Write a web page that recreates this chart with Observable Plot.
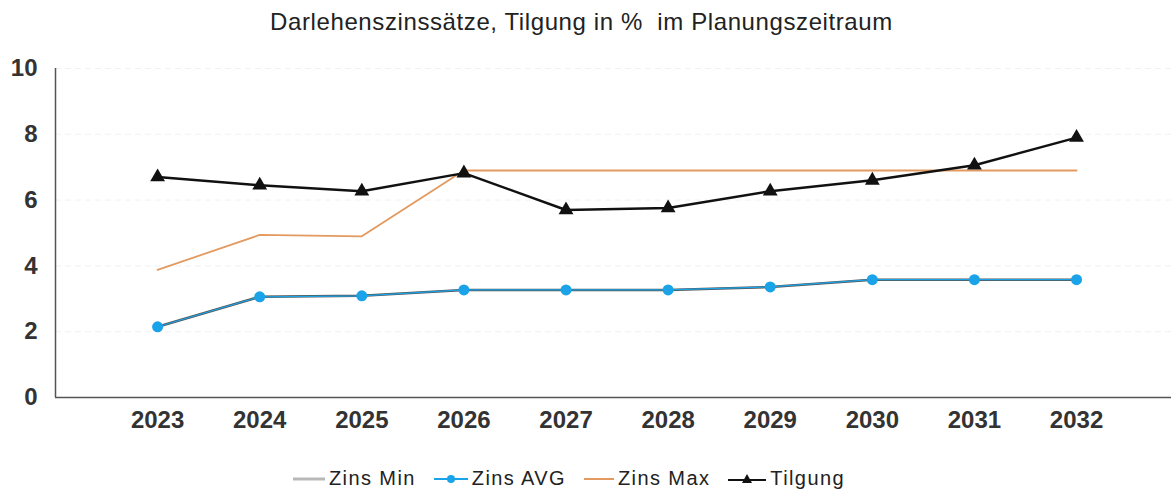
<!DOCTYPE html>
<html>
<head>
<meta charset="utf-8">
<script src="https://cdn.jsdelivr.net/npm/d3@7"></script>
<script src="https://cdn.jsdelivr.net/npm/@observablehq/plot@0.6"></script>
<style>
  body { margin: 0; background: #fff; font-family: "Liberation Sans", Arial, sans-serif; }
  #title { height: 45px; line-height: 44px; text-align: center; font-size: 24px; color: #222; letter-spacing: 0.6px; padding-right: 8px; }
  #legend { display: flex; justify-content: flex-start; font-size: 20px; letter-spacing: 1.4px; color: #222; margin-top: 22px; padding-left: 293px; }
  #legend span.item { display: inline-flex; align-items: center; gap: 4px; margin-right: 18px; }
  svg { display: block; }
</style>
</head>
<body>
<div id="title">Darlehenszinssätze, Tilgung in %&nbsp; im Planungszeitraum</div>
<div id="chart"></div>
<div id="legend"></div>
<script>
const years = [2023, 2024, 2025, 2026, 2027, 2028, 2029, 2030, 2031, 2032];
const zinsMin = [2.15, 3.06, 3.09, 3.27, 3.27, 3.27, 3.36, 3.58, 3.58, 3.58];
const zinsAvg = [2.15, 3.06, 3.09, 3.27, 3.27, 3.27, 3.36, 3.58, 3.58, 3.58];
const zinsMax = [3.88, 4.94, 4.9, 6.9, 6.9, 6.9, 6.9, 6.9, 6.9, 6.9];
const tilgung = [6.7, 6.45, 6.27, 6.82, 5.7, 5.76, 6.27, 6.6, 7.06, 7.9];
const yTicks = [0, 2, 4, 6, 8, 10];

const seriesNames = ["Zins Min", "Zins AVG", "Zins Max", "Tilgung"];
const seriesColors = ["#b8b8b8", "#1aa3e8", "#e39a60", "#111111"];

const rows = (vals, name) => years.map((y, i) => ({year: y, value: vals[i], series: name}));
const dMin = rows(zinsMin, "Zins Min");
const dAvg = rows(zinsAvg, "Zins AVG");
const dMax = rows(zinsMax, "Zins Max");
const dTil = rows(tilgung, "Tilgung");

const chart = Plot.plot({
  width: 1171,
  height: 400,
  marginTop: 23,
  marginBottom: 48,
  marginLeft: 55,
  marginRight: 0,
  style: {fontFamily: "Liberation Sans, Arial, sans-serif", fontSize: "24px", color: "#222", background: "#fff"},
  x: {domain: [2022, 2032.93], label: null},
  y: {domain: [0, 10], label: null},
  marks: [
    Plot.gridY(yTicks.slice(1), {stroke: "#e4e4e4", strokeOpacity: 0.5, strokeDasharray: "6,4"}),
    Plot.ruleY([0], {stroke: "#555", strokeWidth: 1.5}),
    Plot.ruleX([2022], {y1: 0, y2: 10, stroke: "#555", strokeWidth: 1.5}),
    Plot.axisX({ticks: years, tickFormat: d => String(d), tickSize: 0, tickPadding: 13, fontWeight: "bold", fill: "#333", label: null}),
    Plot.axisY({ticks: yTicks, tickSize: 0, tickPadding: 18, fontWeight: "bold", fill: "#333", label: null}),
    Plot.line(dMax, {x: "year", y: "value", stroke: seriesColors[2], strokeWidth: 1.8}),
    Plot.line(dMin, {x: "year", y: "value", stroke: "#555", strokeWidth: 2.5}),
    Plot.line(dAvg, {x: "year", y: "value", stroke: seriesColors[1], strokeWidth: 1.2}),
    Plot.dot(dAvg, {x: "year", y: "value", fill: seriesColors[1], r: 5.5}),
    Plot.line(dTil, {x: "year", y: "value", stroke: "#111", strokeWidth: 2.5}),
    Plot.dot(dTil, {x: "year", y: "value", symbol: "triangle", fill: "#111", r: 5.5})
  ]
});
document.getElementById("chart").appendChild(chart);

// legend
const legend = document.getElementById("legend");
const swatches = [
  `<svg width="32" height="12"><line x1="0" y1="6" x2="32" y2="6" stroke="${seriesColors[0]}" stroke-width="3"/></svg>`,
  `<svg width="34" height="12"><line x1="0" y1="6" x2="34" y2="6" stroke="${seriesColors[1]}" stroke-width="2"/><circle cx="17" cy="6" r="4" fill="${seriesColors[1]}"/></svg>`,
  `<svg width="30" height="12"><line x1="0" y1="6" x2="30" y2="6" stroke="${seriesColors[2]}" stroke-width="2"/></svg>`,
  `<svg width="38" height="12"><line x1="0" y1="7" x2="38" y2="7" stroke="#111" stroke-width="2"/><path d="M19,1 L24,10 L14,10 Z" fill="#111"/></svg>`
];
seriesNames.forEach((n, i) => {
  const s = document.createElement("span");
  s.className = "item";
  s.innerHTML = swatches[i] + `<span>${n}</span>`;
  legend.appendChild(s);
});
</script>
</body>
</html>
